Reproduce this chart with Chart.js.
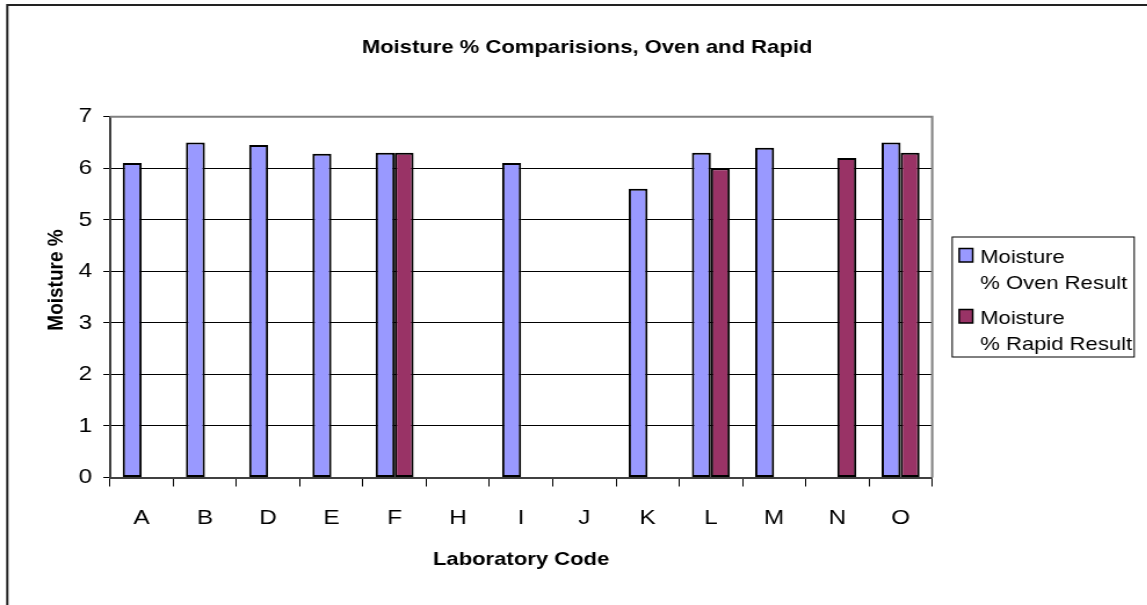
<!DOCTYPE html>
<html>
<head>
<meta charset="utf-8">
<title>Moisture % Comparisions</title>
<script src="https://cdn.jsdelivr.net/npm/chart.js@4/dist/chart.umd.min.js"></script>
<style>
  html, body { margin: 0; padding: 0; background: #fff; overflow: hidden; }
  /* the original picture is stretched sideways, so draw narrower and scale x */
  #wrap { position: absolute; left: 0; top: 0; width: 989px; height: 605px; transform: scaleX(1.16); transform-origin: 0 0; }
</style>
</head>
<body>
<div id="wrap"><canvas id="moistureChart"></canvas></div>
<script>
// data
const labCodes = ["A", "B", "D", "E", "F", "H", "I", "J", "K", "L", "M", "N", "O"];
const ovenResult = [6.1, 6.5, 6.45, 6.28, 6.3, null, 6.1, null, 5.6, 6.3, 6.4, null, 6.5];
const rapidResult = [null, null, null, null, 6.3, null, null, null, null, 6.0, null, 6.2, 6.3];
const yTicks = [0, 1, 2, 3, 4, 5, 6, 7];
const seriesNames = [["Moisture", "% Oven Result"], ["Moisture", "% Rapid Result"]];
const chartTitle = "Moisture % Comparisions, Oven and Rapid";
const xTitle = "Laboratory Code";
const yTitle = "Moisture %";

const SX = 1147 / 989;           // horizontal stretch
const px = x => x / SX;          // picture x -> canvas x
const FONT = "'Liberation Sans', Arial, sans-serif";

// frame, plot border, titles and the boxed legend
const excelLook = {
  id: "excelLook",
  beforeDraw(chart) {
    const ctx = chart.ctx;
    ctx.save();
    ctx.fillStyle = "#fff";
    ctx.fillRect(0, 0, chart.width, chart.height);
    ctx.restore();
  },
  afterDraw(chart) {
    const ctx = chart.ctx;
    const a = chart.chartArea;
    ctx.save();

    // outer frame (only top and left are in the picture)
    ctx.strokeStyle = "#222";
    ctx.lineWidth = 2;
    ctx.beginPath();
    ctx.moveTo(px(7.3), chart.height);
    ctx.lineTo(px(7.3), 5);
    ctx.lineTo(chart.width, 5);
    ctx.stroke();

    // plot area border top / right
    ctx.strokeStyle = "#808080";
    ctx.lineWidth = 2;
    ctx.beginPath();
    ctx.moveTo(a.left, a.top);
    ctx.lineTo(a.right, a.top);
    ctx.lineTo(a.right, a.bottom);
    ctx.stroke();

    // chart title
    ctx.fillStyle = "#000";
    ctx.font = "bold 19px " + FONT;
    ctx.textAlign = "center";
    ctx.textBaseline = "alphabetic";
    ctx.fillText(chartTitle, px(587), 53);

    // y axis title
    ctx.save();
    ctx.translate(px(56), 280);
    ctx.rotate(-Math.PI / 2);
    ctx.textBaseline = "middle";
    ctx.fillText(yTitle, 0, 0);
    ctx.restore();

    // legend
    ctx.strokeStyle = "#000";
    ctx.lineWidth = 1;
    ctx.strokeRect(px(952), 237, px(1134) - px(952), 120);
    ctx.font = "19px " + FONT;
    ctx.textAlign = "left";
    chart.data.datasets.forEach((ds, i) => {
      const y0 = 248.5 + i * 61;
      ctx.fillStyle = ds.backgroundColor;
      ctx.fillRect(px(959), y0, px(972.5) - px(959), 13.5);
      ctx.lineWidth = 1.5;
      ctx.strokeRect(px(959), y0, px(972.5) - px(959), 13.5);
      ctx.fillStyle = "#000";
      seriesNames[i].forEach((line, j) => {
        ctx.fillText(line, px(980), y0 + 14 + j * 26.3);
      });
    });
    ctx.restore();
  }
};

new Chart(document.getElementById("moistureChart"), {
  type: "bar",
  data: {
    labels: labCodes,
    datasets: [{
      label: seriesNames[0].join(" "),
      data: ovenResult,
      backgroundColor: "#9999FF",
      borderColor: "#000",
      borderWidth: 2,
      borderSkipped: false
    }, {
      label: seriesNames[1].join(" "),
      data: rapidResult,
      backgroundColor: "#993366",
      borderColor: "#000",
      borderWidth: 2,
      borderSkipped: false
    }]
  },
  options: {
    responsive: true,
    maintainAspectRatio: false,
    animation: false,
    events: [],
    layout: { padding: { left: 0, top: 116.7, right: 989 - px(932), bottom: 0 } },
    datasets: { bar: { categoryPercentage: 0.6, barPercentage: 1 } },
    plugins: {
      legend: { display: false },
      title: { display: false },
      tooltip: { enabled: false }
    },
    scales: {
      x: {
        afterFit: s => { s.height = 605 - 477.5; },
        grid: { display: true, drawOnChartArea: false, color: "#000", tickLength: 9 },
        border: { color: "#404040", width: 2 },
        ticks: { color: "#000", font: { family: FONT, size: 21 }, padding: 19 },
        title: {
          display: true,
          text: xTitle,
          color: "#000",
          font: { family: FONT, size: 19, weight: "bold" },
          padding: { top: 0, bottom: 33.6 }
        }
      },
      y: {
        min: yTicks[0],
        max: yTicks[yTicks.length - 1],
        afterFit: s => { s.width = px(110); },
        afterBuildTicks: s => { s.ticks = yTicks.map(v => ({ value: v })); },
        grid: { color: "#000", lineWidth: 1, tickLength: px(116.7) - px(110) },
        border: { color: "#404040", width: 2 },
        ticks: { color: "#000", font: { family: FONT, size: 21 }, padding: 9.7 }
      }
    }
  },
  plugins: [excelLook]
});
</script>
</body>
</html>
